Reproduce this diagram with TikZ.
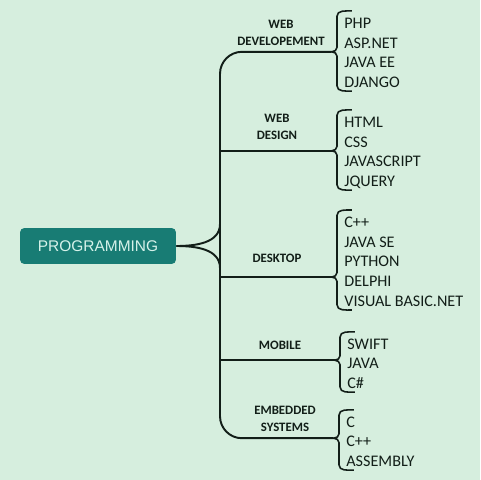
\documentclass[tikz,border=0pt]{standalone}
\usepackage{fontspec}
\setmainfont{Carlito}
\newfontfamily\rootfont{Liberation Sans}
\usetikzlibrary{calc}
\definecolor{mintbg}{RGB}{214,238,222}
\definecolor{tealbox}{RGB}{24,124,116}
\definecolor{boxtext}{RGB}{214,242,234}
\definecolor{inkdark}{RGB}{18,30,24}
\tikzset{
rootbox/.style={fill=tealbox,rounded corners=2.5pt,minimum width=3.12cm,minimum height=0.72cm,inner sep=0pt,
text=boxtext,font=\rootfont\fontsize{8.8}{10}\selectfont},
catlabel/.style={align=center,inner sep=0pt,text=inkdark,font=\bfseries\fontsize{7.3}{10}\selectfont},
itemlist/.style={align=left,anchor=west,inner xsep=4pt,inner ysep=0pt,text=inkdark,
font=\fontsize{9.2}{11.3}\selectfont,execute at end node=\strut},
branchline/.style={draw=inkdark,line width=1.1pt},
bracepen/.style={draw=inkdark,line width=0.9pt}
}
% brace on the west side of an item list, #2 = where the tip sits (from the top)
\newcommand{\listbrace}[2]{%
\coordinate (#1-t) at ([yshift=1.7pt]#1.north west);
\coordinate (#1-b) at ([yshift=1.7pt]#1.south west);
\coordinate (#1-m) at ($(#1-t)!#2!(#1-b)$);
\coordinate (#1-tip) at ([xshift=-3pt]#1-m);
\draw[bracepen] ([xshift=8.5pt]#1-t) to[out=180,in=90] ([yshift=-3pt]#1-t)
  -- ([yshift=2.5pt]#1-m) to[out=-90,in=0] (#1-tip) to[out=0,in=90] ([yshift=-2.5pt]#1-m)
  -- ([yshift=3pt]#1-b) to[out=-90,in=180] ([xshift=8.5pt]#1-b);
}

\begin{document}
\begin{tikzpicture}[x=0.02cm,y=-0.02cm]
\path[fill=mintbg,use as bounding box] (0,0) rectangle (480,480);
\coordinate (trunk) at (220,246);
\node[rootbox] (prog) at (98,246) {PROGRAMMING};
% categories
\node[catlabel] (lwdev) at (281,33) {WEB\\DEVELOPEMENT};
\node[catlabel] (lwdes) at (277,127) {WEB\\DESIGN};
\node[catlabel] (ldesk) at (277,258) {DESKTOP};
\node[catlabel] (lmob) at (280,345) {MOBILE};
\node[catlabel] (lemb) at (285,419) {EMBEDDED\\SYSTEMS};
% item lists
\node[itemlist] (wdev) at (337,54) {\strut PHP\\ASP.NET\\JAVA EE\\DJANGO};
\node[itemlist] (wdes) at (337,153) {\strut HTML\\CSS\\JAVASCRIPT\\JQUERY};
\node[itemlist] (desk) at (337,263) {\strut C++\\JAVA SE\\PYTHON\\DELPHI\\VISUAL BASIC.NET};
\node[itemlist] (mob) at (340,365) {\strut SWIFT\\JAVA\\C\#};
\node[itemlist] (emb) at (339,443) {\strut C\\C++\\ASSEMBLY};
\listbrace{wdev}{0.51}
\listbrace{wdes}{0.51}
\listbrace{desk}{0.67}
\listbrace{mob}{0.47}
\listbrace{emb}{0.47}
% branches
\draw[branchline,rounded corners=12.5pt] (wdev-tip) -| (trunk |- emb-tip) -- (emb-tip);
\foreach \n in {wdes,desk,mob}
  \draw[branchline] (trunk |- \n-tip) -- (\n-tip);
\coordinate (hubup) at (220,224);
\coordinate (hubdn) at (220,268);
\draw[branchline] (prog.east) to[out=0,in=-90] (hubup);
\draw[branchline] (prog.east) to[out=0,in=90] (hubdn);
\end{tikzpicture}
\end{document}
